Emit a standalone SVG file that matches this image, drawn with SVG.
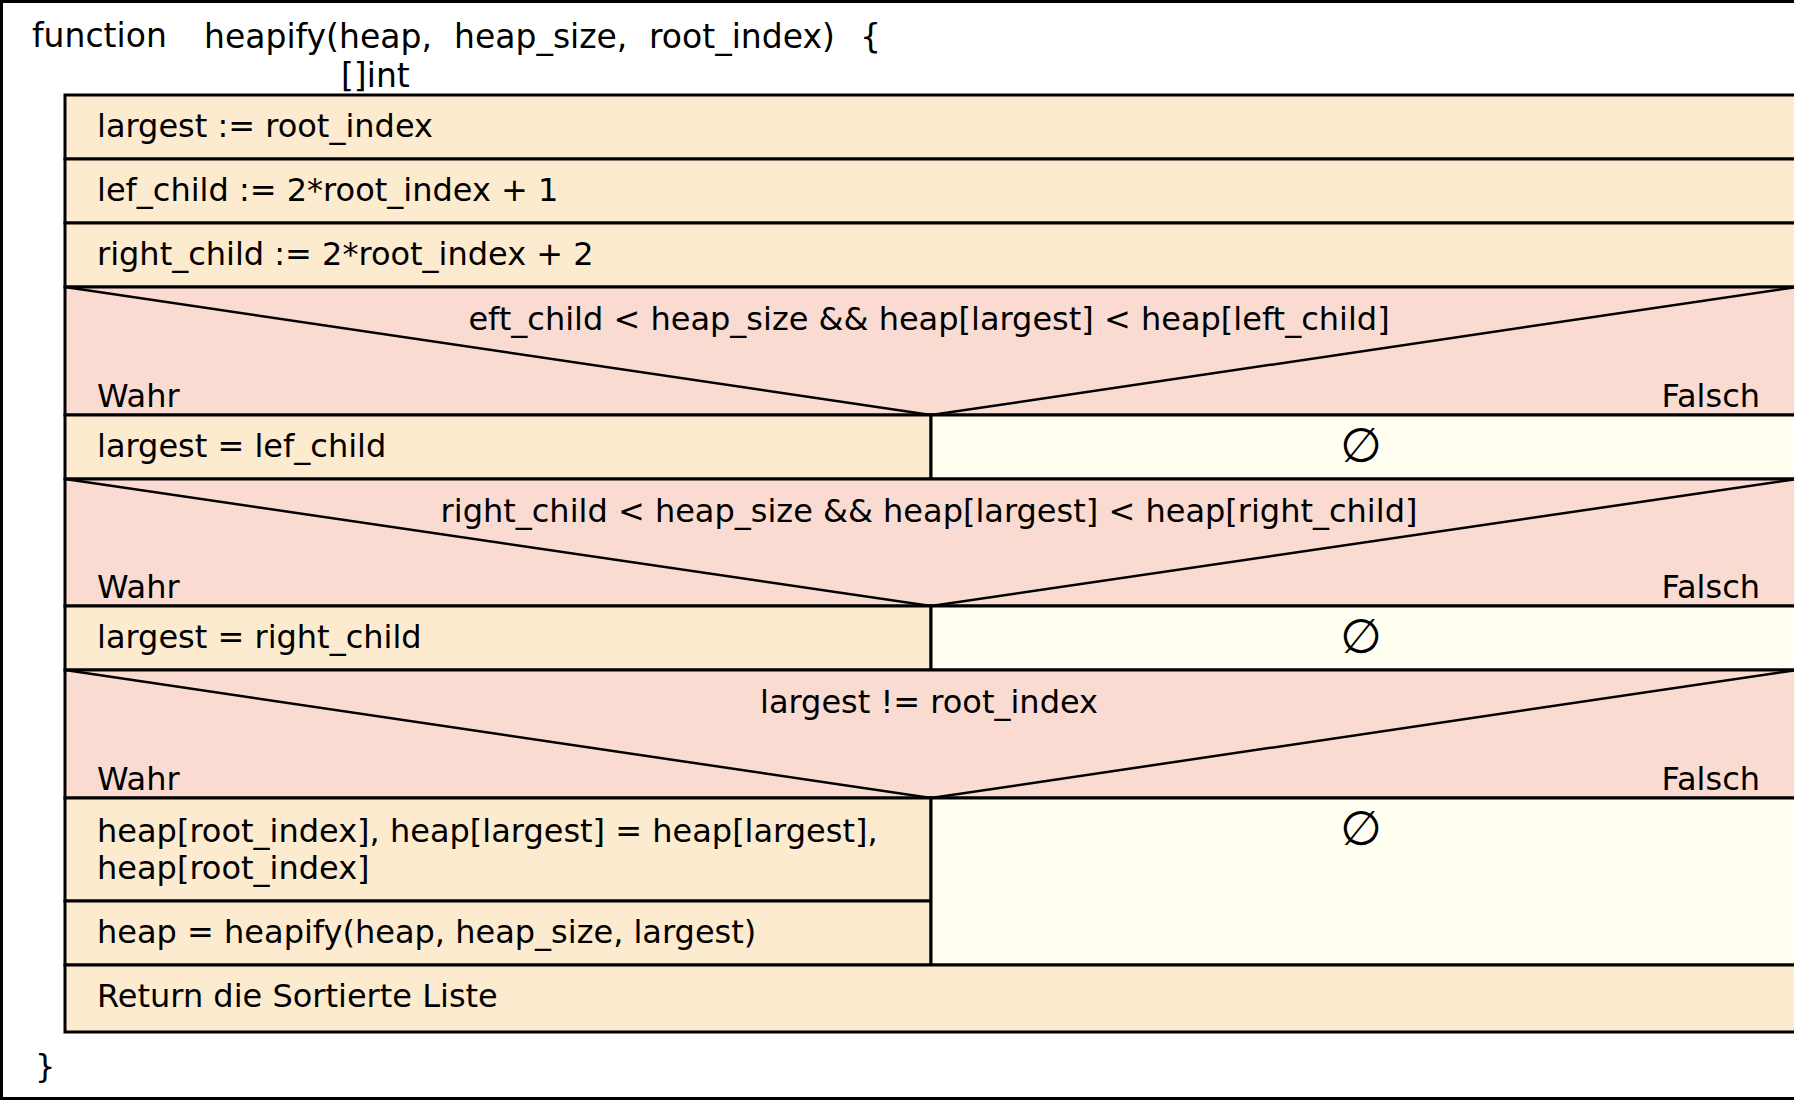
<svg xmlns="http://www.w3.org/2000/svg" width="1794" height="1102" viewBox="0 0 1794 1102">
<style>
text{font-family:"DejaVu Sans","Verdana",sans-serif;font-size:32px;fill:#000}
.hd{font-size:33px}
.mid{text-anchor:middle}
.end{text-anchor:end}
.nil{text-anchor:middle;font-size:48px}
.st{fill:#fdebcf;stroke:#000;stroke-width:3}
.cd{fill:#fadbd2;stroke:#000;stroke-width:3}
.em{fill:#fffef1;stroke:#000;stroke-width:3}
.dg{fill:none;stroke:#000;stroke-width:2.5}
</style>
<rect x="0" y="0" width="1794" height="1102" fill="#fff"/>
<g id="frame">
<rect x="1.5" y="1.5" width="1810" height="1097" fill="#fff" stroke="#000" stroke-width="3"/>
<text class="hd" x="32" y="47">function</text>
<text class="hd" y="48"><tspan x="204">heapify(heap,</tspan><tspan x="454">heap_size,</tspan><tspan x="649">root_index)</tspan><tspan x="860">{</tspan></text>
<text class="hd" x="341" y="87">[]int</text>
<text x="35" y="1077">}</text>
</g>
<g id="n1"><rect class="st" x="65" y="95" width="1740" height="64"/><text x="97" y="137">largest := root_index</text></g>
<g id="n2"><rect class="st" x="65" y="159" width="1740" height="64"/><text x="97" y="201">lef_child := 2*root_index + 1</text></g>
<g id="n3"><rect class="st" x="65" y="223" width="1740" height="64"/><text x="97" y="265">right_child := 2*root_index + 2</text></g>
<g id="c1"><rect class="cd" x="65" y="287" width="1740" height="128"/><polyline class="dg" points="65,287 931,415 1797,287"/>
<text class="mid" x="929" y="330">eft_child &lt; heap_size &amp;&amp; heap[largest] &lt; heap[left_child]</text>
<text x="97" y="407">Wahr</text><text class="end" x="1760" y="407">Falsch</text></g>
<g id="n4"><rect class="st" x="65" y="415" width="866" height="64"/><text x="97" y="457">largest = lef_child</text></g>
<g id="e1"><rect class="em" x="931" y="415" width="874" height="64"/><text class="nil" x="1361" y="462">∅</text></g>
<g id="c2"><rect class="cd" x="65" y="479" width="1740" height="127"/><polyline class="dg" points="65,479 931,606 1797,479"/>
<text class="mid" x="929" y="522">right_child &lt; heap_size &amp;&amp; heap[largest] &lt; heap[right_child]</text>
<text x="97" y="598">Wahr</text><text class="end" x="1760" y="598">Falsch</text></g>
<g id="n5"><rect class="st" x="65" y="606" width="866" height="64"/><text x="97" y="648">largest = right_child</text></g>
<g id="e2"><rect class="em" x="931" y="606" width="874" height="64"/><text class="nil" x="1361" y="653">∅</text></g>
<g id="c3"><rect class="cd" x="65" y="670" width="1740" height="128"/><polyline class="dg" points="65,670 931,798 1797,670"/>
<text class="mid" x="929" y="713">largest != root_index</text>
<text x="97" y="790">Wahr</text><text class="end" x="1760" y="790">Falsch</text></g>
<g id="n6"><rect class="st" x="65" y="798" width="866" height="103"/><text x="97" y="842">heap[root_index], heap[largest] = heap[largest],</text><text x="97" y="879">heap[root_index]</text></g>
<g id="n7"><rect class="st" x="65" y="901" width="866" height="64"/><text x="97" y="943">heap = heapify(heap, heap_size, largest)</text></g>
<g id="e3"><rect class="em" x="931" y="798" width="874" height="167"/><text class="nil" x="1361" y="845">∅</text></g>
<g id="n8"><rect class="st" x="65" y="965" width="1740" height="67"/><text x="97" y="1007">Return die Sortierte Liste</text></g>
<g id="connectors"></g>
</svg>
